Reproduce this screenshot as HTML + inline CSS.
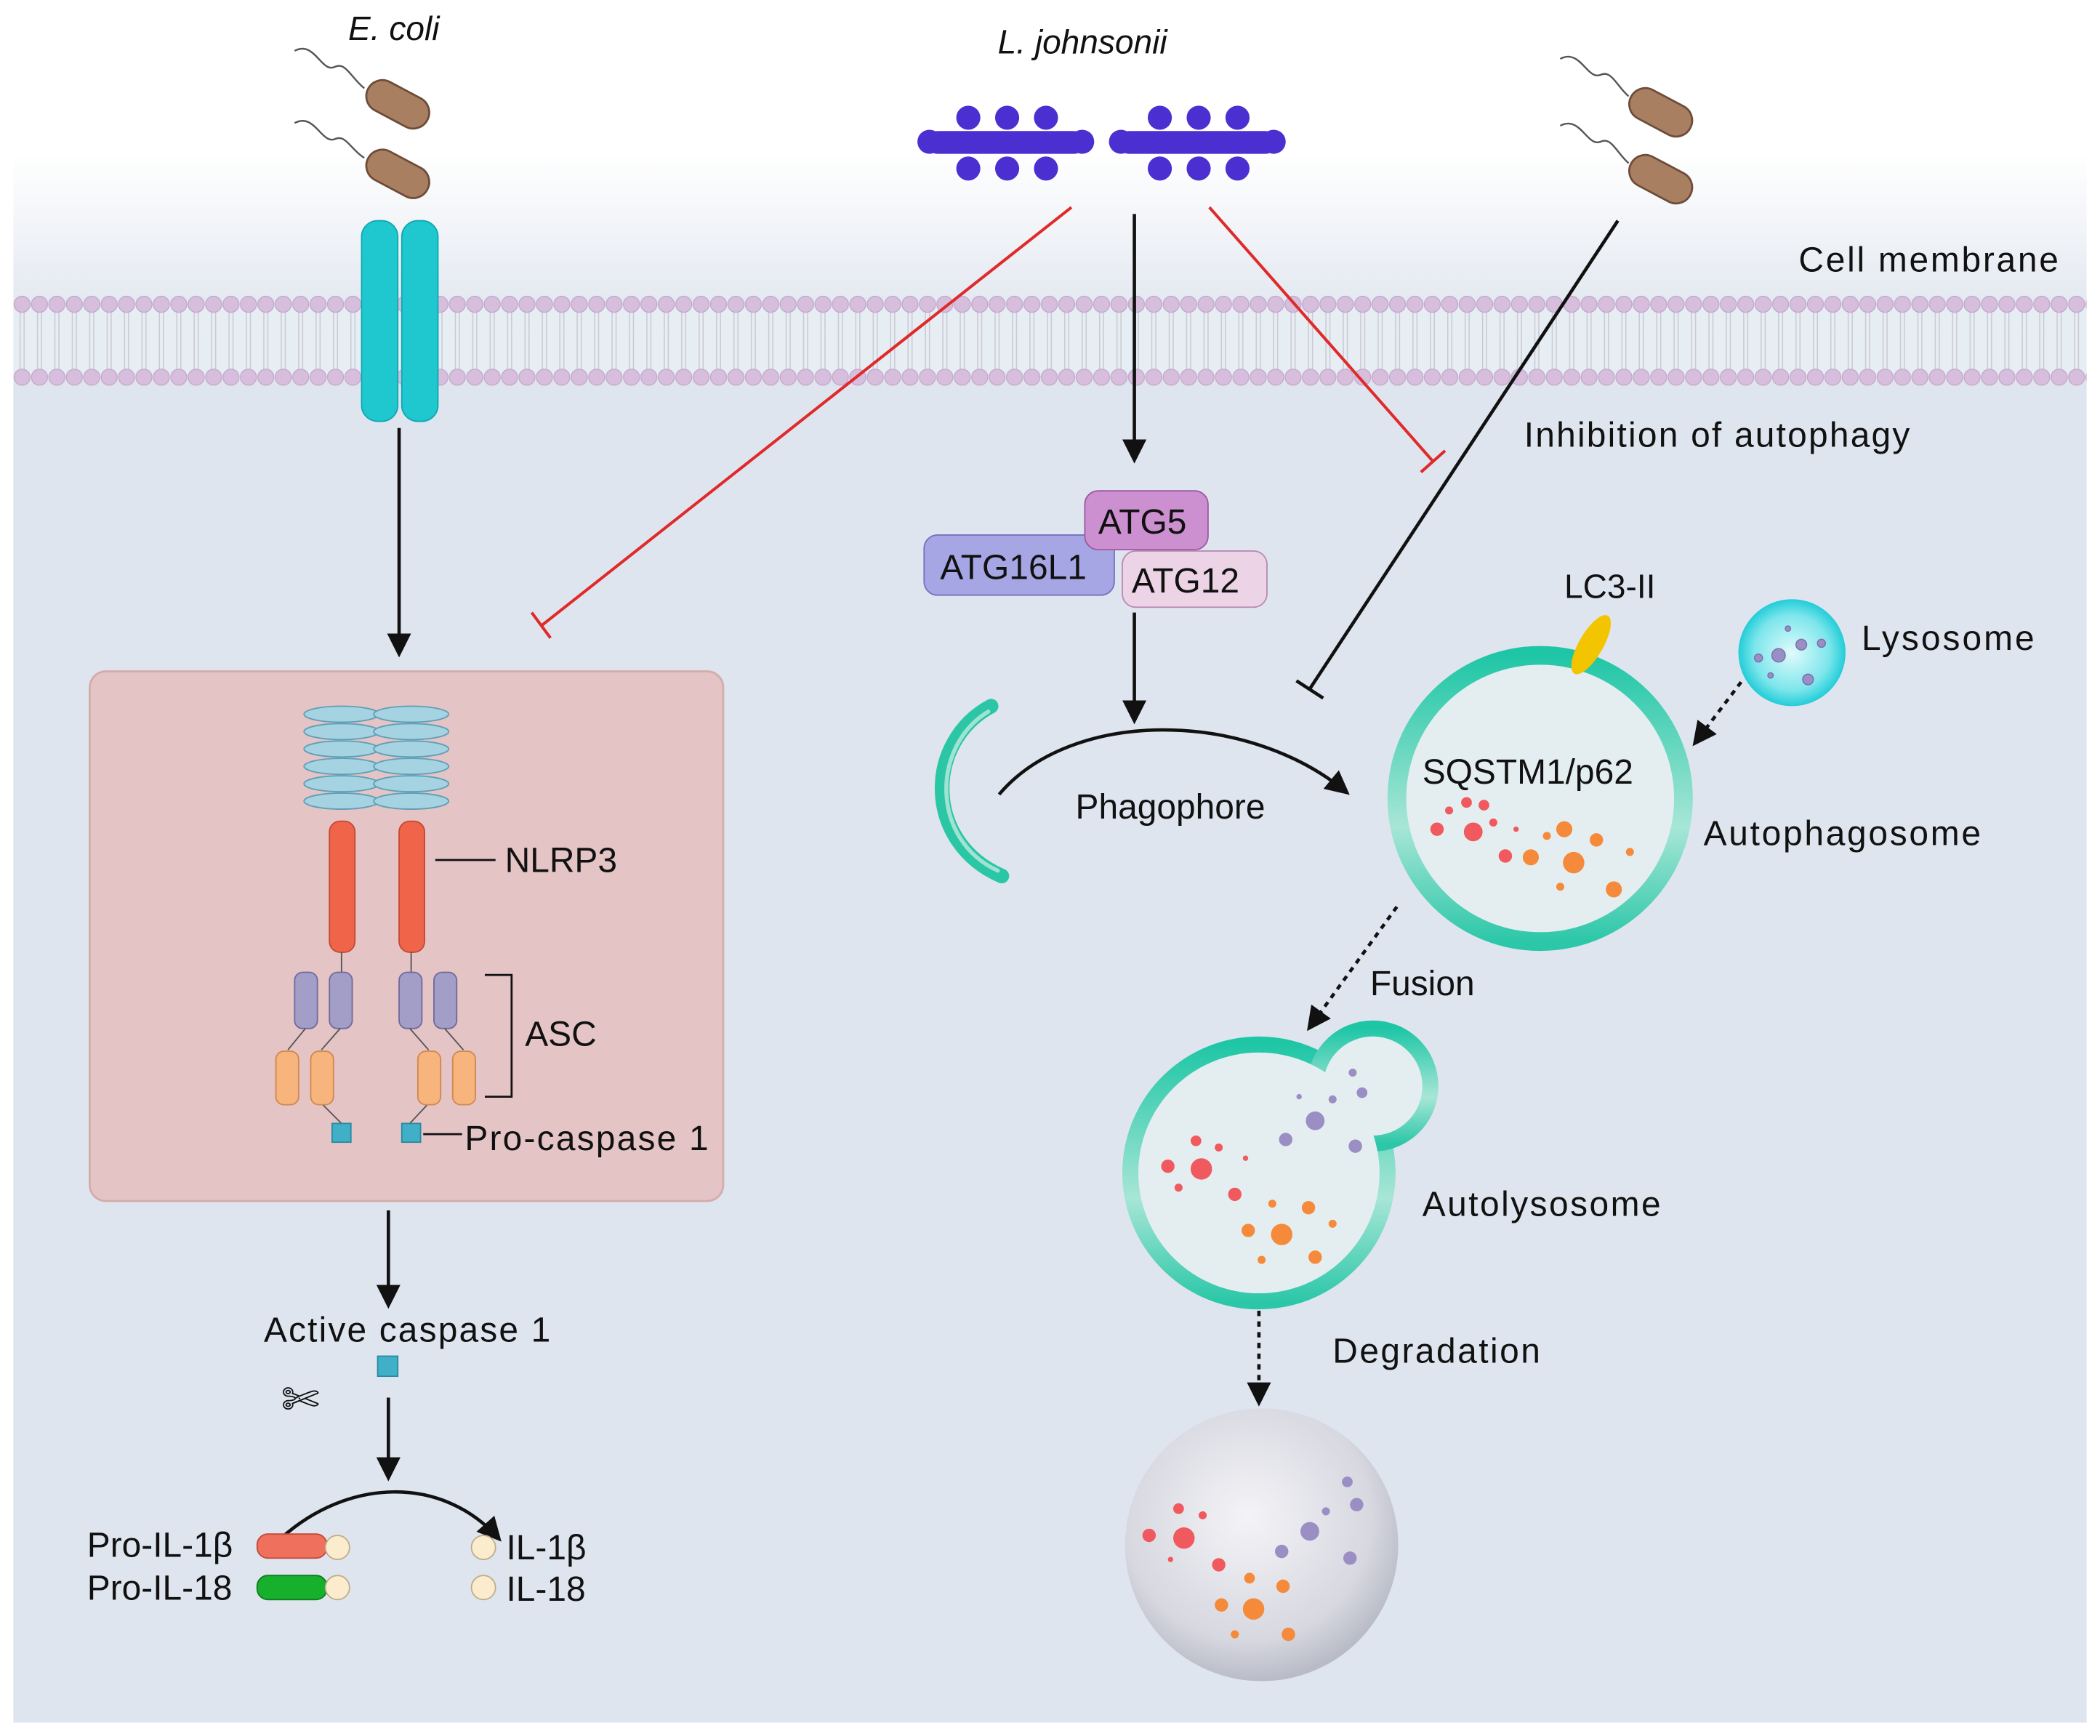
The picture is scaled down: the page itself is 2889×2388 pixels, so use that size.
<!DOCTYPE html>
<html><head><meta charset="utf-8"><style>
html,body{margin:0;padding:0;background:#fff}
svg{display:block}
text{font-family:"Liberation Sans",Arial,sans-serif;fill:#111}
</style></head><body>
<svg width="2889" height="2388" viewBox="0 0 1568 1298" preserveAspectRatio="none" xmlns="http://www.w3.org/2000/svg">
<defs>
<linearGradient id="topg" x1="0" y1="0" x2="0" y2="1">
<stop offset="0" stop-color="#ffffff"/><stop offset="0.5" stop-color="#ffffff"/><stop offset="1" stop-color="#e3e8f0"/></linearGradient>
<pattern id="lipTop" x="10" y="221" width="13" height="40" patternUnits="userSpaceOnUse">
<line x1="5" y1="6" x2="5" y2="30" stroke="#c9c9d3" stroke-width="0.8"/>
<line x1="8" y1="6" x2="8" y2="30" stroke="#c9c9d3" stroke-width="0.8"/>
<circle cx="6.5" cy="6.5" r="6" fill="#d6bedc" stroke="#c2a6cc" stroke-width="0.7"/>
</pattern>
<pattern id="lipBot" x="10" y="246" width="13" height="43" patternUnits="userSpaceOnUse">
<line x1="5" y1="0" x2="5" y2="30" stroke="#c9c9d3" stroke-width="0.8"/>
<line x1="8" y1="0" x2="8" y2="30" stroke="#c9c9d3" stroke-width="0.8"/>
<circle cx="6.5" cy="36" r="6" fill="#d6bedc" stroke="#c2a6cc" stroke-width="0.7"/>
</pattern>
<linearGradient id="teal" x1="0" y1="0" x2="0" y2="1">
<stop offset="0" stop-color="#1fc6a6"/><stop offset="0.6" stop-color="#a7e6d6"/><stop offset="1" stop-color="#2cc7a8"/></linearGradient>
<radialGradient id="lyso" cx="0.5" cy="0.5" r="0.5">
<stop offset="0" stop-color="#e0fbfc"/><stop offset="0.7" stop-color="#7ee6ec"/><stop offset="1" stop-color="#22cdd8"/></radialGradient>
<radialGradient id="deg" cx="0.45" cy="0.4" r="0.6">
<stop offset="0" stop-color="#f4f4f7"/><stop offset="0.75" stop-color="#d7d8e0"/><stop offset="1" stop-color="#b9bbc7"/></radialGradient>
<marker id="ahb" viewBox="0 0 10 10" refX="8" refY="5" markerWidth="18" markerHeight="18" orient="auto" markerUnits="userSpaceOnUse">
<path d="M0,0 L10,5 L0,10 Z" fill="#111"/></marker>
</defs>
<rect x="0" y="0" width="1568" height="1298" fill="#fff"/>
<rect x="10" y="0" width="1548" height="230" fill="url(#topg)"/>
<rect x="10" y="230" width="1548" height="1058" fill="#dfe5ef"/>
<rect x="10" y="228" width="1548" height="56" fill="#e6edf3"/>
<rect x="10" y="221" width="1548" height="25" fill="url(#lipTop)"/>
<rect x="10" y="246" width="1548" height="43" fill="url(#lipBot)"/>

<!-- E coli -->
<text x="260" y="30" font-size="25" font-style="italic">E. coli</text>
<g fill="#a97f62" stroke="#6e4c3a" stroke-width="1.5">
<rect x="272" y="66" width="50" height="24" rx="12" transform="rotate(28 297 78)"/>
<rect x="272" y="118" width="50" height="24" rx="12" transform="rotate(28 297 130)"/>
<rect x="1215" y="72" width="50" height="24" rx="12" transform="rotate(28 1240 84)"/>
<rect x="1215" y="122" width="50" height="24" rx="12" transform="rotate(28 1240 134)"/>
</g>
<g fill="none" stroke="#555" stroke-width="1.3">
<path d="M220,38 C235,30 240,55 250,50 C258,46 262,58 272,66"/>
<path d="M220,92 C235,84 240,108 250,104 C258,100 262,112 272,118"/>
<path d="M1165,44 C1180,36 1185,60 1195,56 C1203,52 1207,64 1216,72"/>
<path d="M1165,94 C1180,86 1185,110 1195,106 C1203,102 1207,114 1216,122"/>
</g>
<!-- receptor -->
<rect x="270" y="165" width="27" height="150" rx="12" fill="#1fc7cf" stroke="#10a9b3"/>
<rect x="300" y="165" width="27" height="150" rx="12" fill="#1fc7cf" stroke="#10a9b3"/>

<!-- L johnsonii -->
<text x="745" y="40" font-size="25" font-style="italic">L. johnsonii</text>
<g fill="#4b2fd0">
<rect x="692" y="98" width="118" height="17" rx="8"/>
<rect x="835" y="98" width="118" height="17" rx="8"/>
<circle cx="694" cy="106" r="9"/><circle cx="808" cy="106" r="9"/><circle cx="837" cy="106" r="9"/><circle cx="951" cy="106" r="9"/>
<circle cx="723" cy="88" r="9"/><circle cx="752" cy="88" r="9"/><circle cx="781" cy="88" r="9"/>
<circle cx="723" cy="126" r="9"/><circle cx="752" cy="126" r="9"/><circle cx="781" cy="126" r="9"/>
<circle cx="866" cy="88" r="9"/><circle cx="895" cy="88" r="9"/><circle cx="924" cy="88" r="9"/>
<circle cx="866" cy="126" r="9"/><circle cx="895" cy="126" r="9"/><circle cx="924" cy="126" r="9"/>
</g>

<text x="1343" y="203" font-size="26" textLength="194">Cell membrane</text>
<text x="1138" y="334" font-size="26" textLength="288">Inhibition of autophagy</text>

<!-- connectors -->
<g stroke="#111" stroke-width="2.5" fill="none">
<line x1="298" y1="320" x2="298" y2="488" marker-end="url(#ahb)"/>
<line x1="847" y1="160" x2="847" y2="343" marker-end="url(#ahb)"/>
<line x1="847" y1="458" x2="847" y2="538" marker-end="url(#ahb)"/>
<line x1="1208" y1="165" x2="978" y2="515"/>
<line x1="968" y1="509" x2="988" y2="522"/>
<path d="M746,594 C800,530 930,530 1005,592" marker-end="url(#ahb)"/>
<line x1="290" y1="905" x2="290" y2="975" marker-end="url(#ahb)"/>
<line x1="290" y1="1045" x2="290" y2="1104" marker-end="url(#ahb)"/>
<path d="M210,1150 C260,1105 330,1103 372,1150" marker-end="url(#ahb)"/>
</g>
<g stroke="#e02a2a" stroke-width="2.2" fill="none">
<line x1="800" y1="155" x2="404" y2="468"/>
<line x1="397" y1="458" x2="411" y2="477"/>
<line x1="903" y1="155" x2="1070" y2="345"/>
<line x1="1061" y1="353" x2="1079" y2="337"/>
</g>
<g stroke="#111" stroke-width="2.5" fill="none" stroke-dasharray="4,4">
<line x1="1300" y1="510" x2="1266" y2="555" marker-end="url(#ahb)" />
<line x1="1043" y1="678" x2="978" y2="768" marker-end="url(#ahb)"/>
<line x1="940" y1="980" x2="940" y2="1048" marker-end="url(#ahb)"/>
</g>

<!-- ATG -->
<rect x="690" y="400" width="142" height="45" rx="10" fill="#a6a6e4" stroke="#7373c0"/>
<text x="702" y="433" font-size="26">ATG16L1</text>
<rect x="838" y="412" width="108" height="42" rx="10" fill="#ecd4e6" stroke="#b78bb3"/>
<text x="845" y="443" font-size="26">ATG12</text>
<rect x="810" y="367" width="92" height="44" rx="10" fill="#cc8fcf" stroke="#9a5aa0"/>
<text x="820" y="399" font-size="26">ATG5</text>

<!-- phagophore -->
<path d="M740,528 C690,555 690,630 748,655" fill="none" stroke="#2bc6a6" stroke-width="11" stroke-linecap="round"/>
<path d="M738,532 C695,558 695,628 745,651" fill="none" stroke="#9fe3d2" stroke-width="3" stroke-linecap="round"/>
<text x="803" y="612" font-size="26">Phagophore</text>

<!-- autophagosome -->
<circle cx="1150" cy="597" r="107" fill="#e4eef0" stroke="url(#teal)" stroke-width="14"/>
<ellipse cx="1188" cy="482" rx="9" ry="25" fill="#f2c500" transform="rotate(30 1188 482)"/>
<text x="1168" y="447" font-size="25">LC3-II</text>
<text x="1062" y="586" font-size="26">SQSTM1/p62</text>
<g fill="#f0595e">
<circle cx="1100" cy="622" r="7"/><circle cx="1073" cy="620" r="5"/><circle cx="1095" cy="600" r="4"/><circle cx="1108" cy="602" r="4"/><circle cx="1124" cy="640" r="5"/><circle cx="1082" cy="606" r="3"/><circle cx="1115" cy="615" r="3"/><circle cx="1132" cy="620" r="2"/>
</g>
<g fill="#f58a3a">
<circle cx="1175" cy="645" r="8"/><circle cx="1143" cy="641" r="6"/><circle cx="1168" cy="620" r="6"/><circle cx="1192" cy="628" r="5"/><circle cx="1205" cy="665" r="6"/><circle cx="1217" cy="637" r="3"/><circle cx="1165" cy="663" r="3"/><circle cx="1155" cy="625" r="3"/>
</g>
<text x="1272" y="632" font-size="26" textLength="207">Autophagosome</text>

<!-- lysosome -->
<circle cx="1338" cy="488" r="40" fill="url(#lyso)"/>
<g fill="#9a8ec4" stroke="#7b6fae" stroke-width="0.8">
<circle cx="1328" cy="490" r="5"/><circle cx="1345" cy="482" r="4"/><circle cx="1350" cy="508" r="4"/><circle cx="1313" cy="492" r="3"/><circle cx="1360" cy="481" r="3"/><circle cx="1335" cy="470" r="2"/><circle cx="1322" cy="505" r="2"/>
</g>
<text x="1390" y="486" font-size="26" textLength="129">Lysosome</text>

<text x="1023" y="744" font-size="26">Fusion</text>

<!-- autolysosome -->
<circle cx="940" cy="877" r="96" fill="none" stroke="url(#teal)" stroke-width="12"/>
<circle cx="1025" cy="812" r="43" fill="none" stroke="url(#teal)" stroke-width="12"/>
<circle cx="940" cy="877" r="90" fill="#e4eef0"/>
<circle cx="1025" cy="812" r="37" fill="#e4eef0"/>
<g fill="#f0595e"><circle cx="897" cy="874" r="8"/><circle cx="872" cy="872" r="5"/><circle cx="922" cy="893" r="5"/><circle cx="893" cy="853" r="4"/><circle cx="910" cy="858" r="3"/><circle cx="880" cy="888" r="3"/><circle cx="930" cy="866" r="2"/></g>
<g fill="#f58a3a"><circle cx="957" cy="923" r="8"/><circle cx="932" cy="920" r="5"/><circle cx="977" cy="903" r="5"/><circle cx="982" cy="940" r="5"/><circle cx="950" cy="900" r="3"/><circle cx="942" cy="942" r="3"/><circle cx="995" cy="915" r="3"/></g>
<g fill="#9a8ec4"><circle cx="982" cy="838" r="7"/><circle cx="960" cy="852" r="5"/><circle cx="1012" cy="857" r="5"/><circle cx="1017" cy="817" r="4"/><circle cx="1010" cy="802" r="3"/><circle cx="995" cy="822" r="3"/><circle cx="970" cy="820" r="2"/></g>
<text x="1062" y="909" font-size="26" textLength="178">Autolysosome</text>
<text x="995" y="1019" font-size="26" textLength="155">Degradation</text>

<!-- degraded sphere -->
<circle cx="942" cy="1155" r="102" fill="url(#deg)"/>
<g fill="#f0595e"><circle cx="884" cy="1150" r="8"/><circle cx="858" cy="1148" r="5"/><circle cx="910" cy="1170" r="5"/><circle cx="880" cy="1128" r="4"/><circle cx="898" cy="1133" r="3"/><circle cx="874" cy="1166" r="2"/></g>
<g fill="#f58a3a"><circle cx="936" cy="1203" r="8"/><circle cx="912" cy="1200" r="5"/><circle cx="958" cy="1186" r="5"/><circle cx="962" cy="1222" r="5"/><circle cx="933" cy="1180" r="4"/><circle cx="922" cy="1222" r="3"/></g>
<g fill="#9a8ec4"><circle cx="978" cy="1145" r="7"/><circle cx="957" cy="1160" r="5"/><circle cx="1008" cy="1165" r="5"/><circle cx="1013" cy="1125" r="5"/><circle cx="1006" cy="1108" r="4"/><circle cx="990" cy="1130" r="3"/></g>

<!-- inflammasome box -->
<rect x="67" y="502" width="473" height="396" rx="12" fill="#e4c4c5" stroke="#d5abab" stroke-width="1.5"/>
<g fill="#a5d3e1" stroke="#5f9fb8" stroke-width="1">
<ellipse cx="255" cy="534" rx="28" ry="6"/><ellipse cx="255" cy="547" rx="28" ry="6"/><ellipse cx="255" cy="560" rx="28" ry="6"/><ellipse cx="255" cy="573" rx="28" ry="6"/><ellipse cx="255" cy="586" rx="28" ry="6"/><ellipse cx="255" cy="599" rx="28" ry="6"/>
<ellipse cx="307" cy="534" rx="28" ry="6"/><ellipse cx="307" cy="547" rx="28" ry="6"/><ellipse cx="307" cy="560" rx="28" ry="6"/><ellipse cx="307" cy="573" rx="28" ry="6"/><ellipse cx="307" cy="586" rx="28" ry="6"/><ellipse cx="307" cy="599" rx="28" ry="6"/>
</g>
<rect x="246" y="614" width="19" height="98" rx="8" fill="#f06449" stroke="#c24a35"/>
<rect x="298" y="614" width="19" height="98" rx="8" fill="#f06449" stroke="#c24a35"/>
<line x1="255" y1="712" x2="255" y2="727" stroke="#555"/><line x1="307" y1="712" x2="307" y2="727" stroke="#555"/>
<g fill="#a39ec8" stroke="#706a9c">
<rect x="220" y="727" width="17" height="42" rx="6"/><rect x="246" y="727" width="17" height="42" rx="6"/>
<rect x="298" y="727" width="17" height="42" rx="6"/><rect x="324" y="727" width="17" height="42" rx="6"/>
</g>
<g stroke="#555" fill="none"><path d="M228,769 L215,785"/><path d="M254,769 L240,785"/><path d="M306,769 L320,785"/><path d="M332,769 L346,785"/><path d="M240,825 L255,840"/><path d="M320,825 L306,840"/></g>
<g fill="#f7b47c" stroke="#d08850">
<rect x="206" y="786" width="17" height="40" rx="6"/><rect x="232" y="786" width="17" height="40" rx="6"/>
<rect x="312" y="786" width="17" height="40" rx="6"/><rect x="338" y="786" width="17" height="40" rx="6"/>
</g>
<rect x="248" y="840" width="14" height="14" fill="#3fb0c8" stroke="#2a8aa0"/>
<rect x="300" y="840" width="14" height="14" fill="#3fb0c8" stroke="#2a8aa0"/>
<line x1="325" y1="643" x2="370" y2="643" stroke="#111" stroke-width="1.5"/>
<text x="377" y="652" font-size="26">NLRP3</text>
<path d="M362,729 L382,729 L382,820 L362,820" fill="none" stroke="#111" stroke-width="1.5"/>
<text x="392" y="782" font-size="26">ASC</text>
<line x1="316" y1="848" x2="345" y2="848" stroke="#111" stroke-width="1.5"/>
<text x="347" y="860" font-size="26" textLength="182">Pro-caspase 1</text>

<text x="197" y="1003" font-size="26" textLength="214">Active caspase 1</text>
<rect x="282" y="1014" width="15" height="15" fill="#3fb0c8" stroke="#2a8aa0"/>
<text x="210" y="1058" font-size="34">✄</text>

<text x="65" y="1164" font-size="26">Pro-IL-1β</text>
<text x="65" y="1196" font-size="26">Pro-IL-18</text>
<rect x="192" y="1147" width="52" height="18" rx="8" fill="#f0705e" stroke="#c14a38"/>
<rect x="192" y="1178" width="52" height="18" rx="8" fill="#17b02c" stroke="#0e7d1e"/>
<g fill="#fbeccd" stroke="#bfae8d"><circle cx="252" cy="1157" r="9"/><circle cx="252" cy="1187" r="9"/><circle cx="361" cy="1157" r="9"/><circle cx="361" cy="1187" r="9"/></g>
<text x="378" y="1166" font-size="26">IL-1β</text>
<text x="378" y="1197" font-size="26">IL-18</text>
</svg>
</body></html>
